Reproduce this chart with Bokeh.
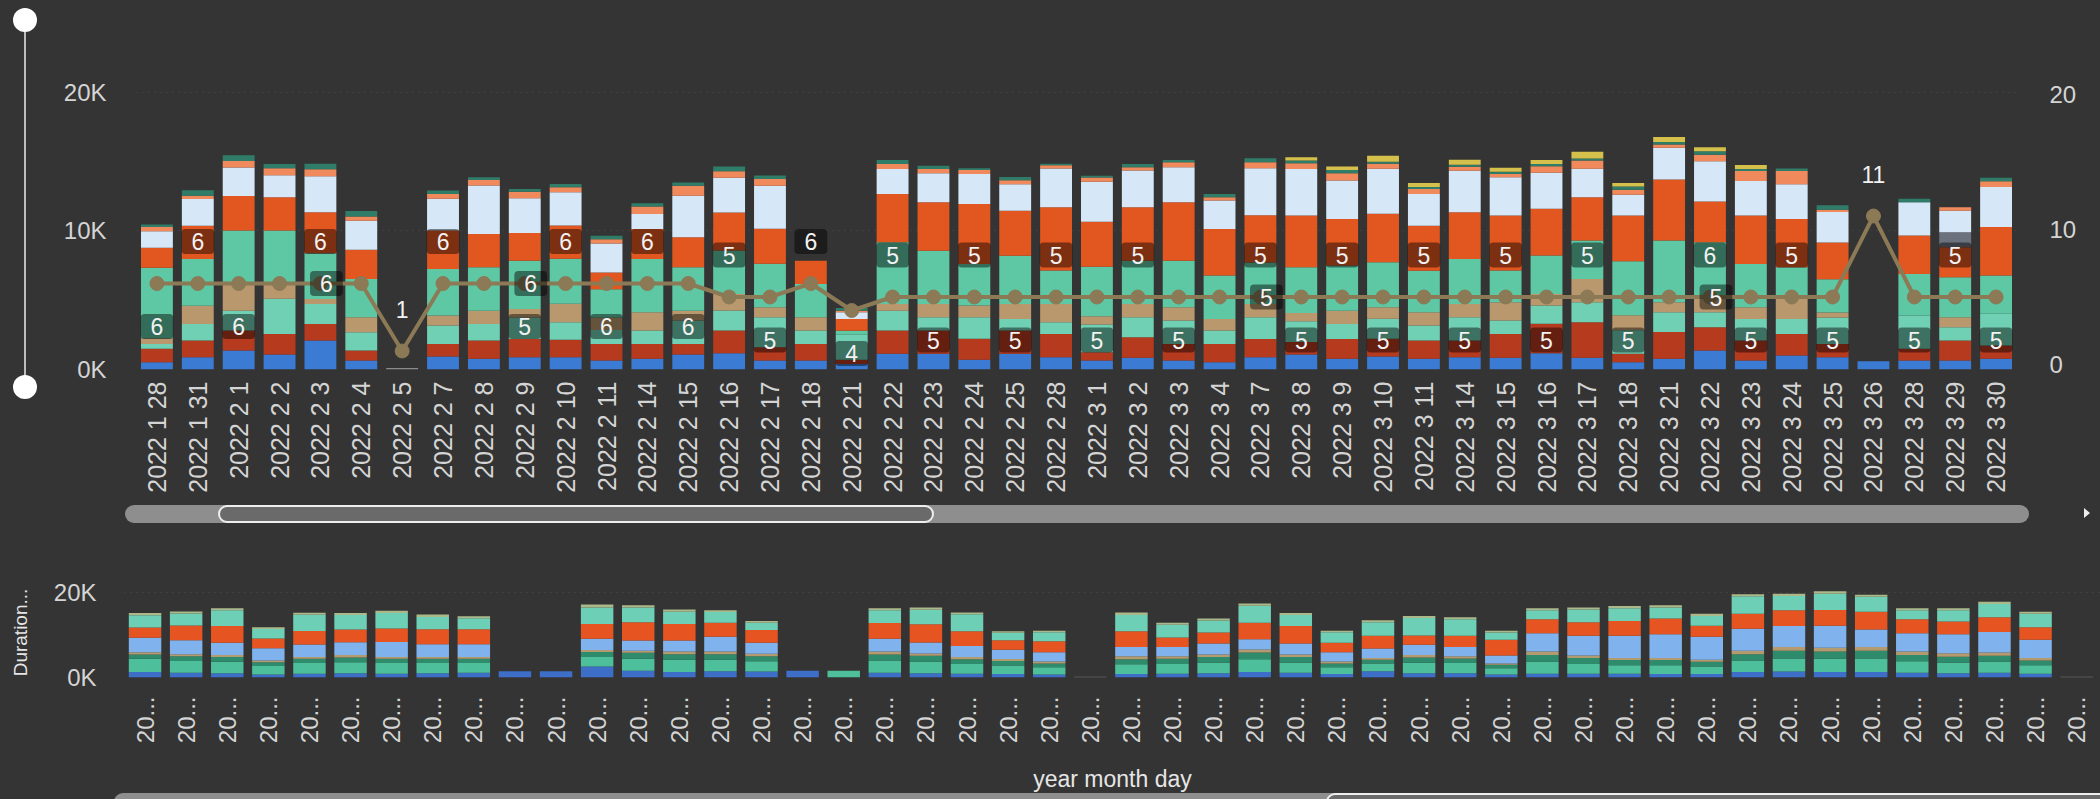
import math
from bokeh.plotting import figure
from bokeh.models import Range1d, LinearAxis, FixedTicker, ColumnDataSource, Div
from bokeh.embed import file_html
from bokeh.resources import INLINE
from bokeh.core.properties import value

# ---------------- data: main chart ----------------
top_dates = ["2022 1 28", "2022 1 31", "2022 2 1", "2022 2 2", "2022 2 3", "2022 2 4", "2022 2 5",
             "2022 2 7", "2022 2 8", "2022 2 9", "2022 2 10", "2022 2 11", "2022 2 14", "2022 2 15",
             "2022 2 16", "2022 2 17", "2022 2 18", "2022 2 21", "2022 2 22", "2022 2 23", "2022 2 24",
             "2022 2 25", "2022 2 28", "2022 3 1", "2022 3 2", "2022 3 3", "2022 3 4", "2022 3 7",
             "2022 3 8", "2022 3 9", "2022 3 10", "2022 3 11", "2022 3 14", "2022 3 15", "2022 3 16",
             "2022 3 17", "2022 3 18", "2022 3 21", "2022 3 22", "2022 3 23", "2022 3 24", "2022 3 25",
             "2022 3 26", "2022 3 28", "2022 3 29", "2022 3 30"]

# durations (thousands) per stacked segment, bottom to top
s_blue = [.53, .89, 1.37, 1.08, 2.09, .65, 0, .94, .77, .89, .89, .65, .77, 1.08, 1.18, .65, .65, .4, 1.13, 1.13, .7, 1.13, .89,
          .65, .84, .65, .53, .89, 1.08, .77, .94, .77, .89, .84, 1.18, .84, .53, .77, 1.37, .65, 1.01, .89, .6, .65, .65, .77]
s_darkred = [.96, 1.2, 1.44, 1.49, 1.2, .72, 0, .91, 1.32, 1.32, 1.25, 1.2, 1.08, .77, 1.64, .96, 1.2, .3, 1.68, 1.68, 1.52, 1.68, 1.68,
             .6, 1.49, 1.2, 1.32, 1.32, .9, 1.44, 1.28, 1.32, 1.2, 1.73, 2.12, 2.58, .6, 1.93, 1.68, 1.44, 1.56, .96, 0, .84, 1.44, .96]
s_lteal = [.36, 1.2, 1.44, 2.53, 1.44, 1.32, 0, 1.32, 1.2, 1.55, 1.28, 1.0, .96, 1.68, 1.44, 2.17, .96, 1.8, 1.44, .96, 1.56, .84, .84,
           2.0, 1.44, 1.68, .96, 1.56, 1.5, 1.08, 1.44, 1.08, 1.68, .96, 1.32, 1.44, 1.7, 1.44, 1.08, 1.56, 1.08, 1.9, 0, 2.41, .96, 2.29]
s_tan = [.4, 1.32, 1.93, 1.08, .36, 1.08, 0, .72, .96, .6, 1.32, .9, 1.32, .72, 1.2, .72, .96, 0, .48, .96, .84, 1.08, 1.32,
         .6, .96, .96, .84, .96, .6, .96, .84, .96, .96, 1.32, .84, 1.68, 1.08, .72, .96, .84, 1.44, .36, 0, 0, .72, 0]
s_teal = [5.1, 3.37, 3.85, 3.85, 3.3, 2.77, 0, 3.37, 3.13, 3.5, 3.25, 2.05, 3.85, 3.13, 3.13, 3.13, 2.41, .3, 4.45, 3.85, 3.0, 3.49, 2.41,
          3.56, 3.13, 3.37, 3.13, 3.0, 3.3, 3.25, 3.25, 3.0, 3.25, 2.29, 2.77, 2.77, 3.9, 4.45, 4.09, 3.13, 2.29, 2.41, 0, 3.0, 2.89, 2.77]
s_orange = [1.44, 2.4, 2.5, 2.4, 2.96, 2.1, 0, 2.77, 2.41, 2.0, 2.4, 1.2, 2.17, 2.17, 2.75, 2.53, 1.68, .84, 3.49, 3.49, 4.33, 3.25, 4.57,
            3.25, 3.85, 4.21, 3.37, 3.4, 3.73, 3.37, 3.49, 3.25, 3.37, 3.97, 3.37, 3.13, 3.3, 4.4, 2.95, 3.49, 3.49, 2.65, 0, 2.77, 2.17, 3.49]
s_slate = [0, 0, 0, 0, 0, 0, 0, 0, 0, 0, 0, 0, 0, 0, 0, 0, 0, 0, 0, 0, 0, 0, 0,
           0, 0, 0, 0, 0, 0, 0, 0, 0, 0, 0, 0, 0, 0, 0, 0, 0, 0, 0, 0, 0, 1.08, 0]
s_white = [1.2, 1.93, 2.05, 1.6, 2.6, 2.1, 0, 2.29, 3.49, 2.5, 2.4, 2.1, 1.08, 3.0, 2.5, 3.1, 0, .5, 1.8, 2.1, 2.17, 1.9, 2.8,
           2.9, 2.65, 2.53, 2.05, 3.4, 3.37, 2.77, 3.25, 2.29, 3.0, 2.77, 2.6, 2.05, 1.5, 2.3, 2.9, 2.5, 2.5, 2.2, 0, 2.41, 1.56, 2.89]
s_salmon = [.29, .24, .48, .5, .5, .3, 0, .36, .41, .48, .36, .3, .53, .72, .48, .5, 0, .1, .36, .3, .29, .29, .24,
            .3, .24, .36, .24, .43, .41, .53, .36, .36, .29, .24, .48, .6, .36, .24, .48, .72, .96, .17, 0, 0, .24, .43]
s_dkgreen = [.19, .4, .41, .3, .4, .4, 0, .24, .19, .2, .24, .25, .24, .24, .34, .24, 0, .2, .29, .24, .12, .24, .1,
             .12, .24, .17, .24, .29, .2, .24, .15, .15, .15, .15, .15, .15, .25, .17, .24, .15, .19, .31, 0, .24, 0, .24]
s_yellow = [0, 0, 0, 0, 0, 0, 0, 0, 0, 0, 0, 0, 0, 0, 0, 0, 0, 0, 0, 0, 0, 0, 0,
            0, 0, 0, 0, 0, .24, .24, .43, .29, .36, .29, .29, .48, .25, .36, .29, .29, 0, 0, 0, 0, 0, 0]
s_gray = [0, 0, 0, 0, 0, 0, .1, 0, 0, 0, 0, 0, 0, 0, 0, 0, 0, 0, 0, 0, 0, 0, 0,
          0, 0, 0, 0, 0, 0, 0, 0, 0, 0, 0, 0, 0, 0, 0, 0, 0, 0, 0, 0, 0, 0, 0]

# line (count) on the right axis
counts = [6, 6, 6, 6, 6, 6, 1, 6, 6, 6, 6, 6, 6, 6, 5, 5, 6, 4,
          5, 5, 5, 5, 5, 5, 5, 5, 5, 5, 5, 5, 5, 5, 5, 5, 5, 5, 5, 5, 5, 5, 5, 5,
          11, 5, 5, 5]

# data labels shown on the chart
lab_dates = ["2022 1 28", "2022 1 31", "2022 2 1", "2022 2 3", "2022 2 3", "2022 2 5", "2022 2 7", "2022 2 9", "2022 2 9",
             "2022 2 10", "2022 2 11", "2022 2 14", "2022 2 15", "2022 2 16", "2022 2 17", "2022 2 18", "2022 2 21",
             "2022 2 22", "2022 2 23", "2022 2 24", "2022 2 25", "2022 2 28", "2022 3 1", "2022 3 2", "2022 3 3",
             "2022 3 7", "2022 3 7", "2022 3 8", "2022 3 9", "2022 3 10", "2022 3 11", "2022 3 14", "2022 3 15",
             "2022 3 16", "2022 3 17", "2022 3 18", "2022 3 22", "2022 3 22", "2022 3 23", "2022 3 24", "2022 3 25",
             "2022 3 26", "2022 3 28", "2022 3 29", "2022 3 30"]
lab_text = ["6", "6", "6", "6", "6", "1", "6", "6", "5", "6", "6", "6", "6", "5", "5", "6", "4", "5", "5", "5", "5", "5",
            "5", "5", "5", "5", "5", "5", "5", "5", "5", "5", "5", "5", "5", "5", "6", "5", "5", "5", "5", "11", "5", "5", "5"]
lab_pos = ["below", "above", "below", "above", "on", "above", "above", "on", "below", "above", "below", "above", "below",
           "above", "below", "above", "below", "above", "below", "above", "below", "above", "below", "above", "below",
           "above", "on", "below", "above", "below", "above", "below", "above", "below", "above", "below", "above", "on",
           "below", "above", "below", "above", "below", "above", "below"]

# ---------------- data: lower chart ----------------
bottom_labels = ["20..."] * 48
b_blue = [1.3, 1.1, 1.0, 0.7, 0.9, 1.0, 0.9, 1.0, 1.1, 1.5, 1.5, 2.6, 1.6, 1.3, 1.5, 1.4, 1.6, 0, 1.1, 1.0, 0.9, 0.8, 0.7, 0,
          0.8, 0.9, 1.0, 1.3, 1.1, 0.8, 1.5, 1.0, 1.0, 0.7, 0.9, 0.9, 0.9, 0.8, 0.8, 1.3, 1.4, 1.3, 1.3, 1.1, 1.0, 1.1, 0.9, 0]
b_teal = [3.1, 2.8, 2.7, 2.0, 2.5, 2.6, 2.5, 2.4, 2.3, 0, 0, 2.2, 2.8, 2.9, 2.7, 2.4, 0, 1.6, 2.9, 2.7, 2.3, 2.0, 1.7, 0,
          2.3, 2.3, 2.5, 3.0, 2.4, 1.6, 1.8, 2.5, 2.4, 1.5, 2.8, 2.3, 2.0, 2.1, 1.8, 2.7, 3.1, 3.1, 3.2, 2.7, 2.5, 2.6, 2.0, 0]
b_dkgreen = [1.0, 1.1, 1.1, 0.9, 1.0, 1.1, 1.0, 1.0, 1.0, 0, 0, 1.2, 1.4, 1.3, 1.3, 1.2, 0, 0, 1.4, 1.4, 1.1, 1.1, 0.9, 0,
             1.2, 1.2, 1.3, 1.6, 1.3, 0.9, 0.9, 1.2, 1.1, 0.8, 1.6, 1.4, 1.2, 1.2, 1.1, 1.5, 1.8, 1.7, 1.8, 1.5, 1.4, 1.4, 1.1, 0]
b_tan = [0.55, 0.45, 0.5, 0.4, 0.45, 0.6, 0.45, 0.45, 0.45, 0, 0, 0.5, 0.5, 0.6, 0.6, 0.6, 0, 0, 0.7, 0.55, 0.5, 0.45, 0.45, 0,
         0.7, 0.6, 0.6, 0.7, 0.6, 0.45, 0.4, 0.6, 0.5, 0.3, 0.8, 0.6, 0.5, 0.5, 0.5, 0.8, 0.9, 0.9, 0.9, 0.8, 0.8, 0.8, 0.6, 0]
b_lblue = [3.4, 3.3, 2.9, 2.9, 2.9, 3.0, 3.5, 3.0, 3.0, 0, 0, 2.6, 2.4, 2.6, 3.5, 2.6, 0, 0, 3.0, 2.6, 2.6, 2.2, 2.2, 0,
           2.2, 2.2, 2.6, 2.4, 2.6, 2.2, 2.2, 2.4, 2.2, 1.9, 4.3, 4.6, 5.2, 5.6, 5.4, 5.2, 4.9, 5.2, 4.1, 4.3, 4.5, 4.8, 4.3, 0]
b_orange = [2.4, 3.5, 3.9, 2.3, 3.2, 3.0, 3.2, 3.5, 3.5, 0, 0, 3.5, 4.3, 3.9, 3.3, 3.0, 0, 0, 3.7, 4.3, 3.5, 2.2, 2.6, 0,
            3.7, 2.2, 2.6, 3.9, 4.1, 2.2, 3.0, 2.2, 2.6, 3.7, 3.3, 3.2, 3.5, 3.7, 2.6, 3.5, 3.7, 3.7, 4.2, 3.3, 3.0, 3.5, 2.9, 0]
b_lteal = [2.9, 2.8, 3.7, 2.2, 3.8, 3.4, 3.6, 2.9, 2.6, 0, 0, 3.9, 3.5, 2.9, 2.5, 1.7, 0, 0, 3.0, 3.4, 4.0, 1.8, 2.1, 0,
           3.8, 3.0, 2.8, 4.0, 2.6, 2.5, 3.2, 4.1, 3.9, 1.7, 2.1, 3.0, 3.0, 2.6, 2.3, 4.1, 3.4, 3.8, 3.5, 2.1, 2.6, 3.1, 3.2, 0]
b_top = [0.55, 0.5, 0.5, 0.4, 0.5, 0.5, 0.55, 0.55, 0.45, 0, 0, 0.7, 0.5, 0.5, 0.4, 0.4, 0, 0, 0.5, 0.5, 0.4, 0.35, 0.35, 0,
         0.6, 0.5, 0.5, 0.5, 0.5, 0.35, 0.5, 0.5, 0.5, 0.4, 0.5, 0.5, 0.5, 0.5, 0.5, 0.5, 0.5, 0.6, 0.5, 0.5, 0.5, 0.5, 0.5, 0]
b_gray = [0, 0, 0, 0, 0, 0, 0, 0, 0, 0, 0, 0, 0, 0, 0, 0, 0, 0, 0, 0, 0, 0, 0, 0.2,
          0, 0, 0, 0, 0, 0, 0, 0, 0, 0, 0, 0, 0, 0, 0, 0, 0, 0, 0, 0, 0, 0, 0, 0.2]

# ---------------- styling ----------------
BG = "#343434"
TXT = "#d4d4d4"
FONT = "Liberation Sans"
LINE = "#8b7a55"


def style_axis(ax, size):
    ax.axis_line_color = None
    ax.major_tick_line_color = None
    ax.minor_tick_line_color = None
    ax.major_tick_out = 0
    ax.major_tick_in = 0
    ax.major_label_text_color = TXT
    ax.major_label_text_font = FONT
    ax.major_label_text_font_size = size


# ================= main chart =================
n = len(top_dates)
xs = list(range(n))
top_names = ["blue", "darkred", "lteal", "tan", "teal", "orange", "slate", "white", "salmon", "dkgreen", "yellow", "gray"]
top_cols = ["#3b7bd4", "#b63a1e", "#70d0b4", "#b9986e", "#5ec7a4", "#e2561f", "#6b727d", "#d6e7f8", "#f08a5d",
            "#2f7d68", "#d4c04a", "#8c8c8c"]
top_vals = [s_blue, s_darkred, s_lteal, s_tan, s_teal, s_orange, s_slate, s_white, s_salmon, s_dkgreen, s_yellow, s_gray]
src = ColumnDataSource(dict(x=xs, **{nm: [v * 1000 for v in vals] for nm, vals in zip(top_names, top_vals)}))

W = 2100
H1 = 538
p = figure(width=W, height=H1, output_backend="svg", toolbar_location=None, title=None,
           x_range=Range1d(-0.5, n - 0.5), y_range=Range1d(0, 22310),
           background_fill_color=BG, border_fill_color=BG, outline_line_color=None,
           min_border_left=136, min_border_right=84, min_border_top=60, min_border_bottom=169)
p.extra_y_ranges = {"cnt": Range1d(-0.37, 22.52)}

p.vbar_stack(top_names, x="x", width=0.78, source=src, fill_color=top_cols, line_color=None)

p.line(xs, counts, y_range_name="cnt", line_color=LINE, line_width=4)
p.scatter(xs, counts, y_range_name="cnt", size=14, fill_color=LINE, line_color=LINE)

totals = [sum(v[i] for v in top_vals) for i in range(n)]
off = {"above": -42, "below": 43, "on": 0}
lab_idx = [top_dates.index(d) for d in lab_dates]
lsrc = ColumnDataSource(dict(
    x=lab_idx,
    y=[counts[i] for i in lab_idx],
    t=lab_text,
    dy=[off[k] for k in lab_pos],
    dx=[6 if k == "on" else 0 for k in lab_pos],
    a=[0.45 if totals[i] > 1 else 0.0 for i in lab_idx],
))
p.text(x="x", y="y", text="t", source=lsrc, y_range_name="cnt", x_offset="dx", y_offset="dy",
       text_align="center", text_baseline="middle", text_color="#f2f2f2",
       text_font=value(FONT), text_font_size="23px",
       background_fill_color="black", background_fill_alpha="a", padding=(10, 4), border_radius=4)

p.xaxis.ticker = FixedTicker(ticks=xs)
p.xaxis.major_label_overrides = {i: d for i, d in enumerate(top_dates)}
p.xaxis.major_label_orientation = math.pi / 2
p.xaxis.major_label_standoff = 12
style_axis(p.xaxis[0], "25px")

yt = FixedTicker(ticks=[0, 10000, 20000])
p.yaxis.ticker = yt
p.yaxis.major_label_overrides = {0: "0K", 10000: "10K", 20000: "20K"}
p.yaxis.major_label_standoff = 30
style_axis(p.yaxis[0], "24px")

ax2 = LinearAxis(y_range_name="cnt", ticker=FixedTicker(ticks=[0, 10, 20]))
ax2.major_label_standoff = 33
style_axis(ax2, "24px")
p.add_layout(ax2, "right")

p.xgrid.grid_line_color = None
p.ygrid.ticker = yt
p.ygrid.grid_line_color = "#4c4c4c"
p.ygrid.grid_line_dash = "1 5"

# ================= lower chart =================
m = len(bottom_labels)
bx = list(range(m))
bot_names = ["gray", "blue", "teal", "dkgreen", "tan", "lblue", "orange", "lteal", "top"]
bot_cols = ["#7a7a7a", "#3d6fc9", "#4ebf9b", "#2e8c6c", "#b39b6f", "#80b3ee", "#e55421", "#6dd0b6", "#aab88a"]
bot_vals = [b_gray, b_blue, b_teal, b_dkgreen, b_tan, b_lblue, b_orange, b_lteal, b_top]
bsrc = ColumnDataSource(dict(x=bx, **{nm: [v * 1000 for v in vals] for nm, vals in zip(bot_names, bot_vals)}))

H2 = 260
q = figure(width=W, height=H2, output_backend="svg", toolbar_location=None, title=None,
           x_range=Range1d(-0.5, 47.58), y_range=Range1d(0, 21180),
           background_fill_color=BG, border_fill_color=BG, outline_line_color=None,
           min_border_left=124, min_border_right=0, min_border_top=49, min_border_bottom=121)
q.vbar_stack(bot_names, x="x", width=0.79, source=bsrc, fill_color=bot_cols, line_color=None)

q.xaxis.ticker = FixedTicker(ticks=bx)
q.xaxis.major_label_overrides = {i: t for i, t in enumerate(bottom_labels)}
q.xaxis.major_label_orientation = math.pi / 2
q.xaxis.major_label_standoff = 19
q.xaxis.axis_label = "year month day"
q.xaxis.axis_label_standoff = 20
q.xaxis.axis_label_text_font = FONT
q.xaxis.axis_label_text_font_size = "23px"
q.xaxis.axis_label_text_font_style = "normal"
q.xaxis.axis_label_text_color = "#e6e6e6"
style_axis(q.xaxis[0], "24px")

yt2 = FixedTicker(ticks=[0, 20000])
q.yaxis.ticker = yt2
q.yaxis.major_label_overrides = {0: "0K", 20000: "20K"}
q.yaxis.major_label_standoff = 28
q.yaxis.axis_label = "Duration..."
q.yaxis.axis_label_standoff = 20
q.yaxis.axis_label_text_font = FONT
q.yaxis.axis_label_text_font_size = "19px"
q.yaxis.axis_label_text_font_style = "normal"
q.yaxis.axis_label_text_color = "#e6e6e6"
style_axis(q.yaxis[0], "24px")

q.xgrid.grid_line_color = None
q.ygrid.ticker = yt2
q.ygrid.grid_line_color = "#4c4c4c"
q.ygrid.grid_line_dash = "1 5"

# ================= slicer / scrollbar chrome (overlay) =================
chrome = """
<div style="position:fixed;left:0;top:0;width:2100px;height:799px;pointer-events:none;overflow:hidden;">
 <div style="position:absolute;left:23.5px;top:20px;width:2px;height:367px;background:#bdbdbd;"></div>
 <div style="position:absolute;left:12.5px;top:8px;width:24px;height:24px;border-radius:50%;background:#ffffff;"></div>
 <div style="position:absolute;left:12.5px;top:375px;width:24px;height:24px;border-radius:50%;background:#ffffff;"></div>
 <div style="position:absolute;left:125px;top:505px;width:1904px;height:18px;border-radius:9px;background:#8e8e8e;"></div>
 <div style="position:absolute;left:218px;top:505px;width:716px;height:18px;border-radius:9px;background:#6a6a6a;border:2px solid #eeeeee;box-sizing:border-box;"></div>
 <div style="position:absolute;left:2084px;top:508px;width:0;height:0;border-top:5px solid transparent;border-bottom:5px solid transparent;border-left:6px solid #eeeeee;"></div>
 <div style="position:absolute;left:114px;top:793px;width:1986px;height:18px;border-radius:9px;background:#8e8e8e;"></div>
 <div style="position:absolute;left:1326px;top:793px;width:800px;height:18px;border-radius:9px;background:#6a6a6a;border:2px solid #eeeeee;box-sizing:border-box;"></div>
</div>
"""
deco = Div(text=chrome, width=1, height=1,
           styles={"position": "absolute", "left": "0px", "top": "0px"})

html = file_html([p, q, deco], INLINE)
html = html.replace("</head>", "<style>html, body { background-color: #343434; }</style></head>", 1)
open("out.html", "w").write(html)
